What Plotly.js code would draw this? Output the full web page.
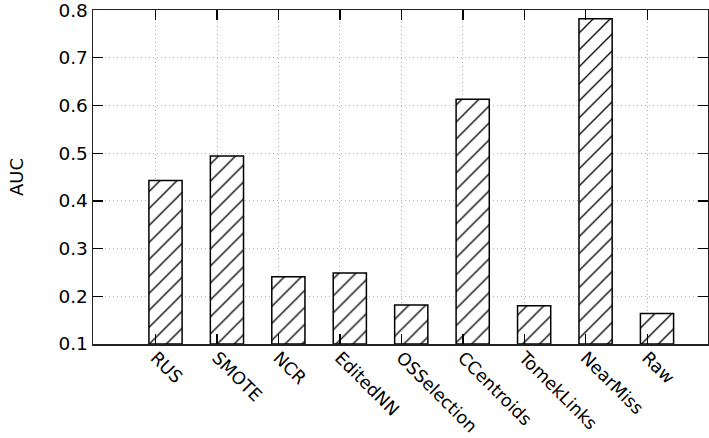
<!DOCTYPE html>
<html>
<head>
<meta charset="utf-8">
<script src="https://cdn.plot.ly/plotly-3.0.1.min.js"></script>
<style>html,body{margin:0;padding:0;background:#fff;}</style>
</head>
<body>
<div id="chart" style="width:709px;height:438px;"></div>
<script>
const categories = ["RUS", "SMOTE", "NCR", "EditedNN", "OSSelection", "CCentroids", "TomekLinks", "NearMiss", "Raw"];
const aucValues = [0.443, 0.494, 0.241, 0.249, 0.182, 0.613, 0.180, 0.782, 0.164];
const yTickValues = [0.1, 0.2, 0.3, 0.4, 0.5, 0.6, 0.7, 0.8];
const yBase = 0.1;

const xPos = categories.map((c, i) => i);
const tickPos = categories.map((c, i) => i - 0.16);

const trace = {
  type: "bar",
  x: xPos,
  y: aucValues.map(v => v - yBase),
  base: yBase,
  width: 0.54,
  marker: {
    color: "#ffffff",
    line: {color: "#000000", width: 1.5},
    pattern: {shape: "/", fgcolor: "#000000", bgcolor: "#ffffff", size: 12, solidity: 0.11}
  },
  hoverinfo: "skip"
};

const fam = "DejaVu Sans, Verdana, sans-serif";
const yFont = {family: fam, size: 18.5, color: "#000000"};
const xFont = {family: fam, size: 17.5, color: "#000000"};

const layout = {
  width: 709,
  height: 438,
  margin: {l: 93, r: 1, t: 10, b: 94},
  paper_bgcolor: "#ffffff",
  plot_bgcolor: "#ffffff",
  showlegend: false,
  font: yFont,
  xaxis: {
    range: [-1.18, 8.83],
    tickmode: "array",
    tickvals: tickPos,
    ticktext: categories,
    tickangle: 45,
    ticks: "inside",
    ticklen: 10,
    tickwidth: 1.3,
    tickcolor: "#000000",
    ticklabelstandoff: -5,
    showline: true,
    linecolor: "#222222",
    linewidth: 1.5,
    mirror: "allticks",
    showgrid: true,
    gridcolor: "#b0b0b0",
    gridwidth: 1,
    griddash: "1px,3px",
    zeroline: false,
    tickfont: xFont
  },
  yaxis: {
    range: [0.1, 0.8003],
    tickmode: "array",
    tickvals: yTickValues,
    ticktext: yTickValues.map(v => v.toFixed(1)),
    ticks: "inside",
    ticklen: 10,
    tickwidth: 1.3,
    tickcolor: "#000000",
    showline: true,
    linecolor: "#222222",
    linewidth: 1.5,
    mirror: "allticks",
    showgrid: true,
    gridcolor: "#b0b0b0",
    gridwidth: 1,
    griddash: "1px,3px",
    zeroline: false,
    tickfont: yFont,
    ticklabeloverflow: "allow",
    title: {text: "AUC", font: {family: fam, size: 18, color: "#000000"}, standoff: 30}
  }
};

Plotly.newPlot("chart", [trace], layout, {displayModeBar: false, staticPlot: true});
</script>
</body>
</html>
